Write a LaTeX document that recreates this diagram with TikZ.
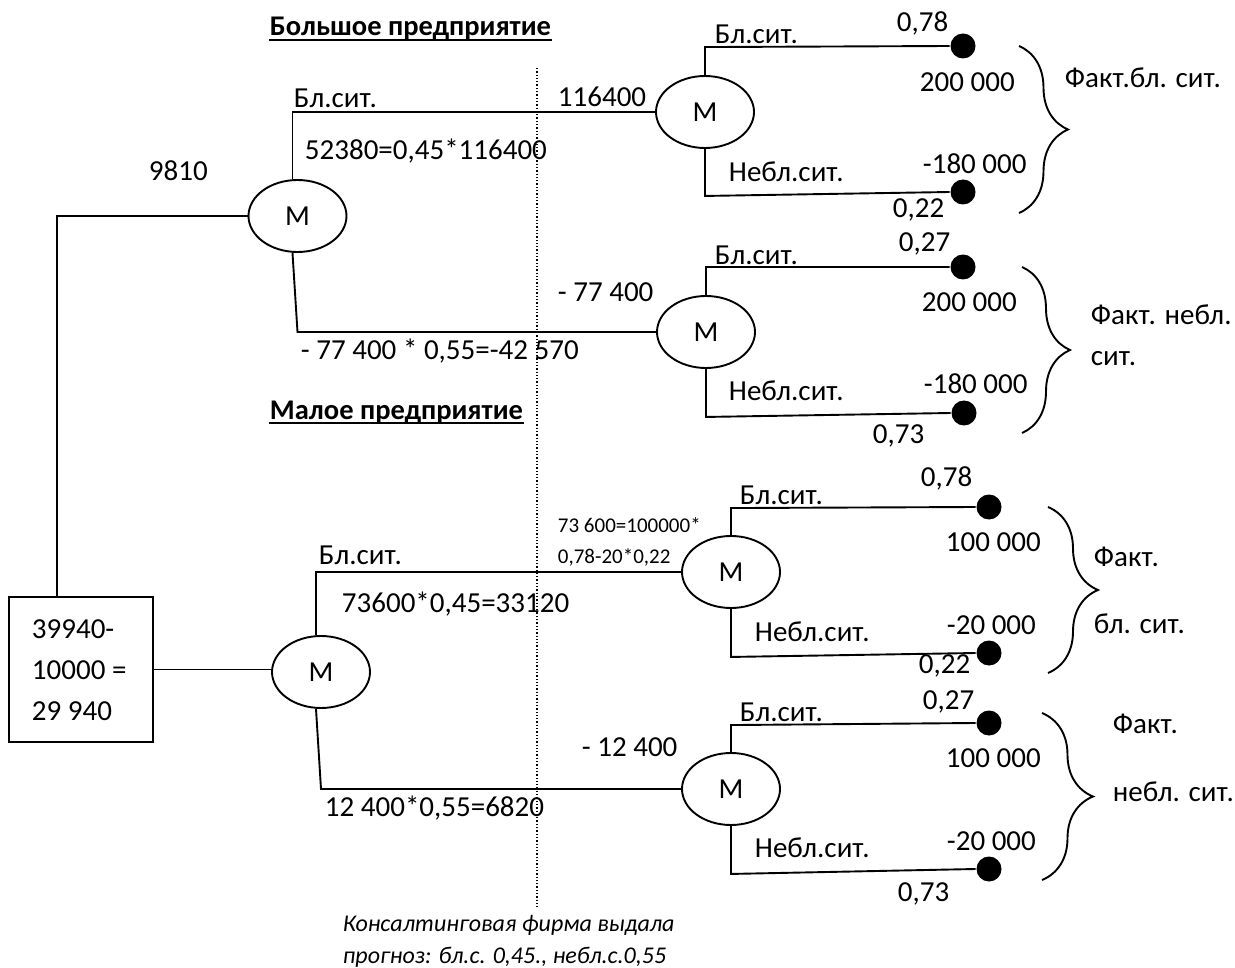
\documentclass[tikz,border=0pt]{standalone}
\usepackage{fontspec}
\setmainfont{Carlito}
\usetikzlibrary{shapes.geometric,decorations.pathreplacing,calc}
\begin{document}
\begin{tikzpicture}[x=1pt,y=-1pt,line width=1.9pt,
  lbl/.style={inner sep=0pt, text height=18.5pt, text depth=0pt, anchor=west, font={\fontsize{29}{35}\selectfont}},
  small/.style={inner sep=0pt, text height=13.4pt, text depth=0pt, anchor=west, font={\fontsize{21}{25}\selectfont}},
  title/.style={inner sep=0pt, anchor=base west, font={\fontsize{28.5}{34}\selectfont\bfseries}},
  note/.style={inner sep=0pt, anchor=base west, font={\fontsize{24}{30}\selectfont\itshape}},
  mnode/.style={ellipse, draw, minimum width=98pt, minimum height=72pt, inner sep=0pt, font={\fontsize{29}{35}\selectfont}},
  dot/.style={circle, fill=black, minimum size=25pt, inner sep=0pt},
  box/.style={draw, minimum width=144pt, minimum height=145pt, inner sep=0pt},
  brc/.style={decorate, decoration={brace, amplitude=#1}}]
\useasboundingbox (0,0) rectangle (1235,968);
% dotted separator
\draw[dotted, line width=1.3pt] (537,68) -- (537,907);
% titles
\node[title] (t1) at (269,36) {Большое предприятие};
\draw[line width=2.2pt] ([yshift=-4pt]t1.base west) -- ([yshift=-4pt]t1.base east);
\node[title] (t2) at (269,419) {Малое предприятие};
\draw[line width=2.2pt] ([yshift=-4pt]t2.base west) -- ([yshift=-4pt]t2.base east);
% root box
\node[box] (root) at (81,669.5) {};
\node[inner sep=0pt, anchor=west, align=left, font={\fontsize{29}{41}\selectfont}] (rt) at (31,670) {39940-\\10000 =\\29 940};
% decision nodes
\node[mnode] (m1) at (297.5,216) {M};
\node[mnode] (m2) at (321,672) {M};
\node[mnode] (m1a) at (705,112) {M};
\node[mnode] (m1b) at (706,332) {M};
\node[mnode] (m3) at (731,572) {M};
\node[mnode] (m4) at (731,789) {M};
% leaves
\node[dot] (d1) at (963,46) {};
\node[dot] (d2) at (963,192) {};
\node[dot] (d3) at (963,267) {};
\node[dot] (d4) at (964,413) {};
\node[dot] (d5) at (989,507) {};
\node[dot] (d6) at (989,653) {};
\node[dot] (d7) at (989,723) {};
\node[dot] (d8) at (989,869) {};
% connectors left
\draw ($(root.north west)!0.333!(root.north east)$) |- (m1.west);
\draw (root.east) -- (root.east -| m2.west);
\draw ([xshift=-5pt]m1.north) |- (m1a.west);
\draw ([xshift=-5pt]m1.south) -- (m1.south |- m1b.west) -- (m1b.west);
\draw ([xshift=-5pt]m2.north) |- (m3.west);
\draw ([xshift=-5pt]m2.south) -- (m2.south |- m4.west) -- (m4.west);
% connectors right
\draw (m1a.north) -- ++(0,-28) -- (d1.west);
\draw (m1a.south) -- ++(0,47) -- (d2.west);
\draw (m1b.north) -- ++(0,-28) -- (d3.west);
\draw (m1b.south) -- ++(0,48) -- (d4.west);
\draw (m3.north) -- ++(0,-27) -- (d5.west);
\draw (m3.south) -- ++(0,48) -- (d6.west);
\draw (m4.north) -- ++(0,-27) -- (d7.west);
\draw (m4.south) -- ++(0,48) -- (d8.west);
% braces
\draw[brc=49pt] (1019,46) -- (1019,213);
\draw[brc=48pt] (1022,267) -- (1022,433);
\draw[brc=50pt] (1048,507) -- (1048,673);
\draw[brc=51pt] (1042,713) -- (1042,880);
% left labels
\node[lbl] (l1) at (293,98) {Бл.сит.};
\node[lbl] (l2) at (304,150) {52380=0,45*116400};
\node[lbl] (l3) at (148,171) {9810};
\node[lbl] (l4) at (557,97) {116400};
\node[lbl] (l5) at (557,292) {- 77 400};
\node[lbl] (l6) at (300,350) {- 77 400 * 0,55=-42 570};
\node[small] (l7) at (557,526) {73 600=100000*};
\node[small] (l8) at (557,557) {0,78-20*0,22};
\node[lbl] (l9) at (318,555) {Бл.сит.};
\node[lbl] (l10) at (341,603) {73600*0,45=33120};
\node[lbl] (l11) at (581,747) {- 12 400};
\node[lbl] (l12) at (324,807) {12 400*0,55=6820};
\node[note] (n1) at (342,931) {Консалтинговая фирма выдала};
\node[note] (n2) at (342,963) {прогноз: бл.с. 0,45., небл.с.0,55};
% right labels group 1
\node[lbl] (r1) at (714,34) {Бл.сит.};
\node[lbl] (r2) at (896,22) {0,78};
\node[lbl] (r3) at (919,82) {200 000};
\node[lbl] (r4) at (728,172) {Небл.сит.};
\node[lbl] (r5) at (922,164) {-180 000};
\node[lbl] (r6) at (892,208) {0,22};
\node[lbl] (r7) at (1064,78) {Факт.бл. сит.};
% group 2
\node[lbl] (r8) at (898,242) {0,27};
\node[lbl] (r9) at (714,255) {Бл.сит.};
\node[lbl] (r10) at (921,302) {200 000};
\node[lbl] (r11) at (1090,315) {Факт. небл.};
\node[lbl] (r12) at (1090,356) {сит.};
\node[lbl] (r13) at (728,391) {Небл.сит.};
\node[lbl] (r14) at (923,384) {-180 000};
\node[lbl] (r15) at (872,434) {0,73};
\node[lbl] (r16) at (920,477) {0,78};
% group 3
\node[lbl] (r17) at (739,495) {Бл.сит.};
\node[lbl] (r18) at (945,542) {100 000};
\node[lbl] (r19) at (1093,557) {Факт.};
\node[lbl] (r20) at (1093,624) {бл. сит.};
\node[lbl] (r21) at (754,632) {Небл.сит.};
\node[lbl] (r22) at (946,625) {-20 000};
\node[lbl] (r23) at (918,664) {0,22};
% group 4
\node[lbl] (r24) at (922,700) {0,27};
\node[lbl] (r25) at (739,712) {Бл.сит.};
\node[lbl] (r26) at (945,758) {100 000};
\node[lbl] (r27) at (1112,724) {Факт.};
\node[lbl] (r28) at (1112,792) {небл. сит.};
\node[lbl] (r29) at (754,848) {Небл.сит.};
\node[lbl] (r30) at (946,841) {-20 000};
\node[lbl] (r31) at (897,892) {0,73};
\end{tikzpicture}
\end{document}
